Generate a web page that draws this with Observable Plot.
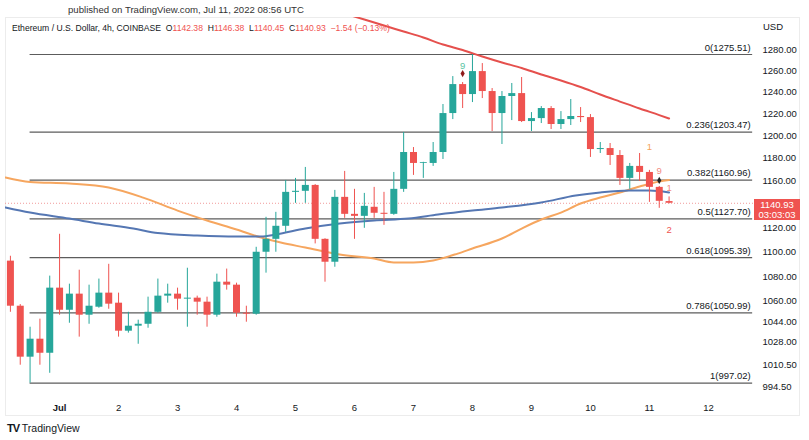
<!DOCTYPE html>
<html><head><meta charset="utf-8">
<script src="https://cdn.jsdelivr.net/npm/d3@7"></script>
<script src="https://cdn.jsdelivr.net/npm/@observablehq/plot@0.6"></script>
<style>
body{margin:0;background:#fff;font-family:"Liberation Sans",Arial,sans-serif;}
#wrap{position:relative;width:809px;height:440px;overflow:hidden;background:#fff;}
#frame{position:absolute;left:5px;top:17px;width:795px;height:399px;border:1px solid #ececec;box-sizing:border-box;}
#chart{position:absolute;left:0;top:0;}
.ov{position:absolute;white-space:nowrap;color:#131722;}
.r{color:#ef5350;}
#pbox{position:absolute;left:754px;width:46px;height:21px;background:#ef5350;color:#fff;font-size:9.5px;line-height:10px;text-align:center;padding-top:1px;box-sizing:border-box;}
</style></head><body>
<div id="wrap">
 <div id="frame"></div>
 <div id="chart"></div>
 <div class="ov" style="left:68px;top:4px;font-size:9.6px;color:#333;">published on TradingView.com, Jul 11, 2022 08:56 UTC</div>
 <div class="ov" id="hdr" style="left:12px;top:23px;font-size:8.6px;"></div>
 <div class="ov" style="left:763px;top:21px;font-size:9.5px;">USD</div>
 <div class="ov" style="left:7px;top:422px;font-size:10.5px;"><b style="font-weight:900;letter-spacing:-1px;font-size:11px;">TV</b> TradingView</div>
 <div id="pbox"></div>
</div>
<script>
// ---- data ----
const symbolTitle = "Ethereum / U.S. Dollar, 4h, COINBASE";
const lastOHLC = {O: 1142.38, H: 1146.38, L: 1140.45, C: 1140.93};
const lastChange = "\u22121.54 (\u22120.13%)";
const countdown = "03:03:03";
const startUTC = Date.UTC(2022, 5, 30, 4); // first 4h candle
const open  = [1092.5,1056.2,1016.6,1030.4,1019.6,1070.6,1053.0,1065.8,1049.1,1055.4,1066.6,1058.6,1036.6,1040.5,1042.0,1051.4,1064.2,1065.8,1061.8,1062.6,1059.4,1049.1,1075.4,1073.0,1050.7,1049.9,1099.8,1110.5,1121.4,1150.3,1151.2,1156.3,1110.5,1091.6,1146.0,1131.5,1129.8,1137.5,1132.4,1131.5,1152.9,1185.2,1175.5,1175.5,1185.2,1220.3,1247.1,1237.8,1259.3,1240.6,1220.3,1236.0,1238.7,1213.0,1215.7,1224.9,1210.3,1214.8,1217.6,1216.6,1187.8,1188.7,1182.5,1162.4,1172.9,1167.6,1154.6,1142.38];
const high  = [1096.5,1057.5,1039.7,1046.0,1080.3,1114.7,1073.8,1085.1,1073.0,1077.9,1089.9,1066.6,1051.4,1045.2,1063.4,1077.9,1073.8,1070.6,1086.7,1064.2,1063.4,1081.9,1086.0,1074.6,1056.2,1103.9,1129.0,1133.2,1160.6,1162.4,1172.0,1157.0,1111.0,1152.0,1168.5,1152.9,1149.4,1154.6,1150.3,1167.6,1203.1,1189.6,1176.5,1194.1,1228.6,1254.6,1249.0,1275.51,1266.9,1243.4,1240.6,1248.1,1253.7,1221.2,1226.7,1226.7,1222.1,1233.2,1225.8,1219.4,1194.1,1193.2,1186.9,1175.5,1184.3,1169.4,1155.4,1146.38];
const low   = [1051.4,1010.5,997.02,1010.5,1004.4,1049.1,1042.8,1032.0,1042.0,1054.6,1053.8,1032.0,1035.1,1026.5,1038.9,1050.7,1058.6,1053.0,1039.7,1049.1,1039.7,1047.5,1069.0,1047.5,1043.6,1049.1,1082.7,1099.8,1116.3,1140.9,1140.9,1106.7,1075.4,1087.5,1128.1,1110.5,1119.7,1128.1,1122.2,1130.7,1150.3,1165.0,1162.4,1172.9,1179.0,1214.8,1224.9,1230.4,1234.1,1204.0,1192.3,1213.9,1212.1,1204.0,1211.2,1205.8,1205.8,1209.4,1212.1,1180.8,1184.3,1173.7,1156.3,1152.9,1159.8,1141.7,1136.6,1140.45];
const close = [1056.2,1016.6,1030.4,1019.6,1070.6,1053.0,1065.8,1049.1,1056.2,1066.6,1057.8,1036.6,1040.5,1042.0,1051.4,1064.2,1065.8,1061.8,1062.6,1059.4,1049.1,1075.4,1073.0,1050.7,1049.9,1099.8,1110.5,1121.4,1150.3,1151.2,1156.3,1110.5,1091.6,1146.0,1131.5,1129.8,1138.3,1132.4,1131.5,1152.9,1185.2,1175.5,1176.2,1185.2,1220.3,1247.1,1237.8,1259.3,1240.6,1220.3,1236.0,1238.7,1213.0,1215.7,1224.9,1210.3,1214.8,1217.6,1216.6,1187.8,1188.7,1182.5,1162.4,1172.9,1167.6,1154.6,1142.6,1140.93];
// moving averages (candle index, value)
const maOrangeIdx = [-0.5,2,6,10,13.5,17,20,23,25.5,27.5,30,33.5,37,39,41,43,45.5,47,50,52,54,56,58,60,62,64,66,67];
const maOrangeVal = [1163.1,1159.2,1157.9,1154.5,1145.8,1134.7,1126.3,1118.7,1112.0,1107.8,1103.7,1097.9,1094.6,1091.4,1091.4,1093.0,1098.7,1102.9,1111.2,1119.5,1127.1,1133.0,1140.7,1145.8,1150.2,1155.3,1159.7,1161.0];
const maBlueIdx = [-0.5,2,6,9,12.5,15,19,23,25.5,27,30,33.5,37,40.5,43.5,47,50,54,57.5,60,63,65,67];
const maBlueVal = [1137.3,1133.0,1127.9,1123.7,1119.5,1115.7,1113.7,1112.8,1112.8,1114.5,1119.5,1123.7,1126.3,1127.9,1131.3,1134.7,1137.3,1141.6,1147.6,1150.2,1151.9,1151.9,1150.2];
const maRedIdx = [34,36,38,40,42,44,46,48,50,52,54,56,58,60,62,64,66,67];
const maRedVal = [1315.3,1309.4,1303.5,1297.7,1291.9,1285.1,1279.8,1273.6,1267.9,1262.7,1256.5,1250.9,1244.8,1237.8,1231.3,1224.9,1218.9,1215.8];
// fibonacci retracement
const fibRatios = ["0","0.236","0.382","0.5","0.618","0.786","1"];
const fibValues = [1275.51,1203.47,1160.96,1127.70,1095.39,1050.99,997.02];
const fibFromIdx = 2, fibToIdx = 75.5;
// TD sequential marks
const tdIdx   = [46, 65, 66, 67, 67];
const tdVal   = [1265.0, 1190.5, 1168.5, 1153.7, 1118.7];
const tdText  = ["9", "1", "9", "1", "2"];
const tdColor = ["#5cc4a4", "#f5a35b", "#f28b82", "#f28b82", "#ef5350"];
const markIdx = [46, 66];
const markVal = [1257.4, 1160.6];
const markColor = ["#8e1b1b", "#222"];
// axes
const yTicks = [1280,1260,1240,1220,1200,1180,1160,1120,1100,1080,1060,1044,1028,1010.5,994.5];
const dayNums = [1,2,3,4,5,6,7,8,9,10,11,12];
const monthLabel = "Jul";

// ---- build ----
const H4 = 4*3600*1000;
const T = i => new Date(startUTC + i*H4);
const candles = open.map((o,i)=>({t:T(i), o, h:high[i], l:low[i], c:close[i]}));
const ups = candles.filter(d=>d.c>=d.o), downs = candles.filter(d=>d.c<d.o);
const GREEN="#26a69a", RED="#ef5350";
const ser = (idx, val) => idx.map((i,k)=>({t:T(i), v:val[k]}));
const days = dayNums.map(d=>new Date(Date.UTC(2022,6,d)));
const lastClose = close[close.length-1];
const fib = fibValues.map((v,i)=>({v, label:`${fibRatios[i]}(${v.toFixed(2)})`}));
const td = tdIdx.map((i,k)=>({t:T(i), v:tdVal[k], s:tdText[k], c:tdColor[k]}));
const mk = markIdx.map((i,k)=>({t:T(i), v:markVal[k], c:markColor[k]}));

const chart = Plot.plot({
  width:809, height:440, marginLeft:5, marginRight:54, marginTop:17, marginBottom:42,
  style:{fontFamily:"Liberation Sans, Arial, sans-serif", fontSize:"9.5px", color:"#131722", background:"transparent", overflow:"visible"},
  x:{type:"utc", domain:[T(-0.5), T(75.79)], axis:null},
  y:{type:"log", domain:[985.6,1311.4], axis:null},
  color:{type:"identity"},
  marks:[
    Plot.ruleY([lastClose], {stroke:"#f19a9a", strokeDasharray:"1,2", strokeWidth:1}),
    Plot.ruleY(fib, {y:"v", x1:()=>T(fibFromIdx), x2:()=>T(fibToIdx), stroke:"#5c5c5c", strokeWidth:1.2}),
    Plot.text(fib, {x:()=>T(75.3), y:"v", text:"label", textAnchor:"end", dy:-7, fill:"#131722", fontSize:9.5}),
    Plot.line(ser(maOrangeIdx, maOrangeVal), {x:"t", y:"v", stroke:"#f6a65f", strokeWidth:2, curve:"monotone-x", clip:true}),
    Plot.line(ser(maBlueIdx, maBlueVal), {x:"t", y:"v", stroke:"#5577b3", strokeWidth:2, curve:"monotone-x", clip:true}),
    Plot.line(ser(maRedIdx, maRedVal), {x:"t", y:"v", stroke:"#e5504d", strokeWidth:2, curve:"monotone-x", clip:true}),
    Plot.ruleX(ups, {x:"t", y1:"l", y2:"h", stroke:GREEN, strokeWidth:1}),
    Plot.ruleX(downs, {x:"t", y1:"l", y2:"h", stroke:RED, strokeWidth:1}),
    Plot.ruleX(ups, {x:"t", y1:"o", y2:"c", stroke:GREEN, strokeWidth:7}),
    Plot.ruleX(downs, {x:"t", y1:"o", y2:"c", stroke:RED, strokeWidth:7}),
    Plot.text(td, {x:"t", y:"v", text:"s", fill:"c", fontSize:9.5}),
    Plot.dot(mk, {x:"t", y:"v", fill:"c", r:2.2, symbol:"diamond"}),
    Plot.axisY(yTicks, {anchor:"right", tickSize:0, tickPadding:7, tickFormat:d3.format(".2f"), label:null, fill:"#131722", fontSize:9.5}),
    Plot.axisX(days.slice(1), {anchor:"bottom", tickSize:0, tickPadding:6, tickFormat:d=>String(d.getUTCDate()), label:null, fill:"#131722", fontSize:9.5}),
    Plot.axisX(days.slice(0,1), {anchor:"bottom", tickSize:0, tickPadding:6, tickFormat:()=>monthLabel, label:null, fill:"#131722", fontSize:9.5, fontWeight:"bold"})
  ]
});
document.getElementById("chart").appendChild(chart);

// header and price box
const hdr = document.getElementById("hdr");
const f = v => v.toFixed(2);
hdr.innerHTML = `${symbolTitle}&nbsp; O<span class="r">${f(lastOHLC.O)}</span>&nbsp; H<span class="r">${f(lastOHLC.H)}</span>&nbsp; L<span class="r">${f(lastOHLC.L)}</span>&nbsp; C<span class="r">${f(lastOHLC.C)}</span>&nbsp; <span class="r">${lastChange}</span>`;
const pb = document.getElementById("pbox");
const yPix = chart.scale("y").apply(lastClose);
pb.style.top = (yPix - 4) + "px";
pb.innerHTML = `${f(lastClose)}<br>${countdown}`;
</script>
</body></html>
